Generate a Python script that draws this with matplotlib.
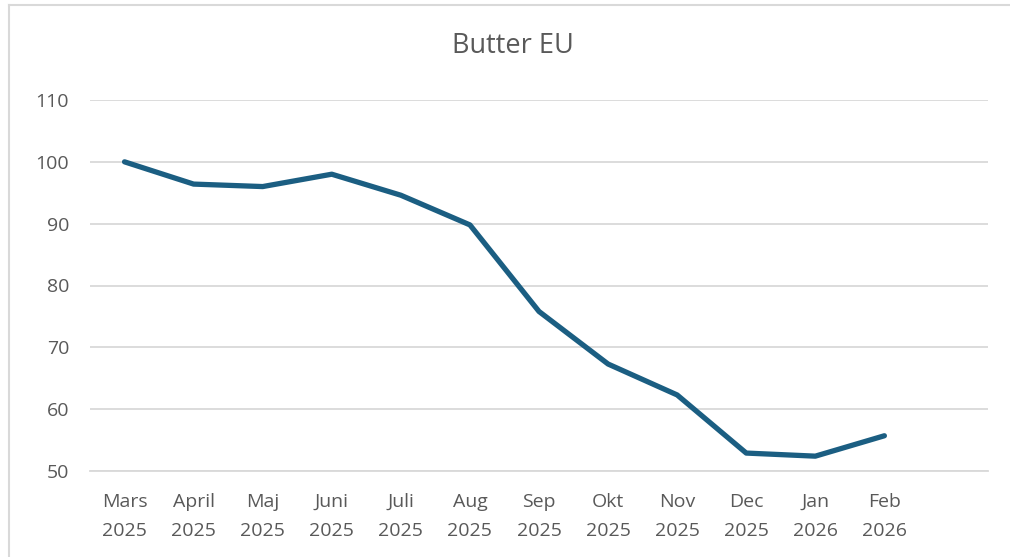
import matplotlib.pyplot as plt
from matplotlib.lines import Line2D

# Data
months = ["Mars\n2025", "April\n2025", "Maj\n2025", "Juni\n2025", "Juli\n2025", "Aug\n2025",
          "Sep\n2025", "Okt\n2025", "Nov\n2025", "Dec\n2025", "Jan\n2026", "Feb\n2026"]
butter_eu = [100.0, 96.4, 96.0, 98.0, 94.6, 89.8, 75.8, 67.3, 62.3, 52.9, 52.4, 55.7]
y_ticks = [50, 60, 70, 80, 90, 100, 110]

plt.rcParams['font.family'] = ['Open Sans', 'DejaVu Sans']
text_col = "#595959"
grid_col = "#d9d9d9"

fig = plt.figure(figsize=(10.10, 5.57), dpi=100)
ax = fig.add_axes([90 / 1010, 1 - 471 / 557, (988 - 90) / 1010, (471 - 100) / 557])

x = list(range(len(months)))
ax.plot(x, butter_eu, color="#1b5e82", linewidth=3.8, solid_capstyle="round", solid_joinstyle="round")

# one empty category slot on the right, like the original
ax.set_xlim(-0.5, len(months) + 0.5)
ax.set_ylim(50, 110)
ax.set_yticks(y_ticks)
ax.set_xticks(x)
ax.set_xticklabels(months, linespacing=1.75)

ax.grid(axis="y", color=grid_col, linewidth=1.3)
ax.set_axisbelow(True)
for s in ["top", "right", "left"]:
    ax.spines[s].set_visible(False)
ax.spines["bottom"].set_color(grid_col)
ax.spines["bottom"].set_linewidth(1.3)
ax.tick_params(axis="both", length=0, labelsize=14, labelcolor=text_col)
ax.tick_params(axis="y", pad=15)
ax.tick_params(axis="x", pad=16)

fig.text(0.508, 0.917, "Butter EU", ha="center", va="center", fontsize=19.5, color=text_col)

# chart border (top and left visible in the crop)
fig.add_artist(Line2D([9 / 1010, 9 / 1010], [0, 1 - 5 / 557], color=grid_col, linewidth=1.5))
fig.add_artist(Line2D([9 / 1010, 1], [1 - 5 / 557, 1 - 5 / 557], color=grid_col, linewidth=1.5))

fig.savefig("out.png", dpi=100, facecolor="white")
